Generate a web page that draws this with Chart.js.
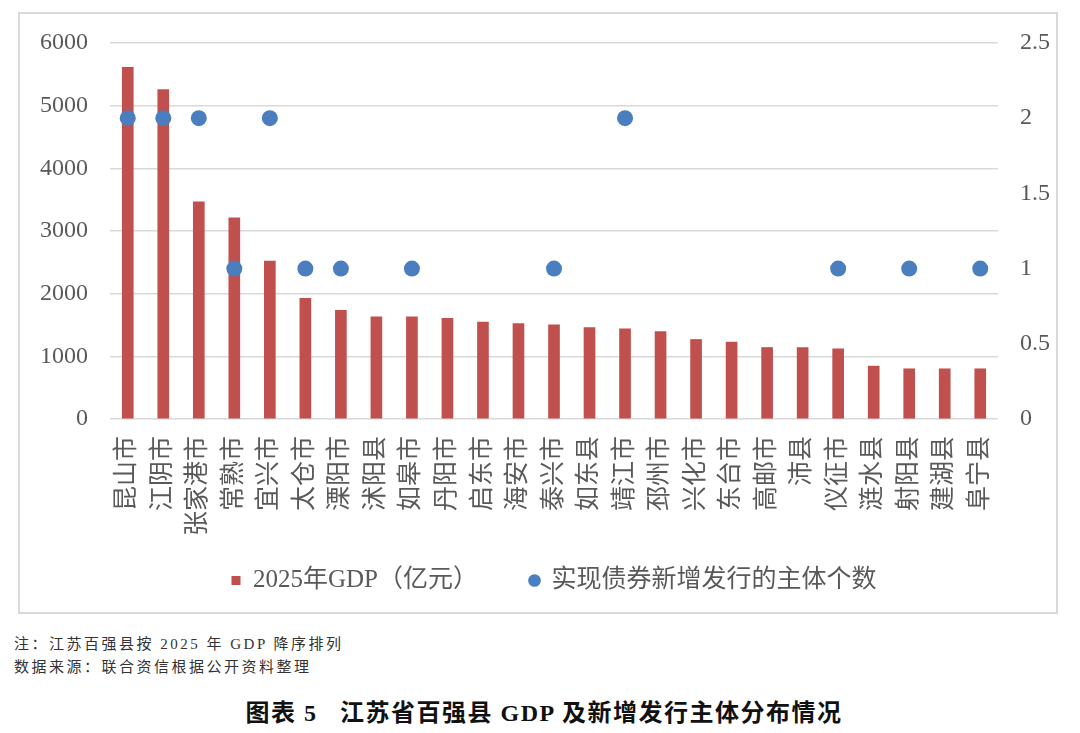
<!DOCTYPE html>
<html>
<head>
<meta charset="utf-8">
<script src="https://cdn.jsdelivr.net/npm/chart.js@4.4.1/dist/chart.umd.min.js"></script>
<style>
  body { margin: 0; width: 1080px; height: 733px; background: #fff; position: relative; overflow: hidden;
         font-family: "Liberation Serif", "Noto Sans CJK SC", serif; }
  #caixa { position: absolute; left: 18px; top: 12px; width: 1040px; height: 602px;
           border: 2px solid #d9d9d9; box-sizing: border-box; }
  #caixa canvas { display: block; }
  .nota { position: absolute; left: 14px; font-size: 15px; color: #333; letter-spacing: 2.5px; white-space: nowrap; }
  #titulo { position: absolute; left: 0; width: 1088px; top: 693px; text-align: center; font-size: 24px;
            font-weight: bold; color: #111; letter-spacing: 1.5px; white-space: nowrap; }
</style>
</head>
<body>
<div id="caixa"><canvas id="grafico" width="1036" height="598"></canvas></div>
<div class="nota" style="top:632px">注：江苏百强县按 2025 年 GDP 降序排列</div>
<div class="nota" style="top:655px">数据来源：联合资信根据公开资料整理</div>
<div id="titulo">图表 5&nbsp;&nbsp;&nbsp;江苏省百强县 GDP 及新增发行主体分布情况</div>

<script>
// Os dados do gráfico
var condados = ['昆山市', '江阴市', '张家港市', '常熟市', '宜兴市', '太仓市', '溧阳市', '沭阳县', '如皋市',
    '丹阳市', '启东市', '海安市', '泰兴市', '如东县', '靖江市', '邳州市', '兴化市', '东台市', '高邮市',
    '沛县', '仪征市', '涟水县', '射阳县', '建湖县', '阜宁县'];

var gdp2025 = [5610, 5255, 3466, 3212, 2521, 1927, 1736, 1629, 1629, 1608, 1545, 1524, 1502, 1460,
    1438, 1396, 1269, 1226, 1141, 1141, 1120, 844, 801, 801, 801];

// quantidade de emissores novos (null = sem ponto)
var emissores = [2, 2, 2, 1, 2, 1, 1, null, 1, null, null, null, 1, null, 2, null, null, null, null,
    null, 1, null, 1, null, 1];

var ticksEsquerda = [0, 1000, 2000, 3000, 4000, 5000, 6000];
var ticksDireita = [0, 0.5, 1, 1.5, 2, 2.5];

var nomeGdp = '2025年GDP（亿元）';
var nomeEmissores = '实现债券新增发行的主体个数';

var fonteTexto = '"Liberation Serif", "Noto Sans CJK SC", serif';
var cinza = '#595959';

function montarTicks(lista) {
    return function (escala) {
        escala.ticks = lista.map(function (v) { return { value: v }; });
    };
}

// fixa a largura do eixo y e tira a folga que o Chart.js soma em cima/embaixo
function larguraEixo(largura) {
    return function (escala) {
        escala.width = largura;
        escala.paddingTop = 0;
        escala.paddingBottom = 0;
    };
}

// ajustes depois do layout:
// - os rótulos do eixo x passam por baixo da legenda (senão o Chart.js corta o texto)
// - a legenda fica um pouco à direita do centro, como no original
var ajustarLayout = {
    id: 'ajustarLayout',
    afterLayout: function (chart) {
        chart.scales.x.bottom = chart.height;
        if (chart.legend) {
            chart.legend.left += 16;
            chart.legend.right += 16;
        }
    }
};

new Chart(document.getElementById('grafico'), {
    type: 'bar',
    data: {
        labels: condados,
        datasets: [
            {
                // fica no índice 0 para ser desenhado por cima das barras
                type: 'line',
                label: nomeEmissores,
                data: emissores,
                yAxisID: 'y1',
                showLine: false,
                pointRadius: 8,
                pointHoverRadius: 8,
                pointStyle: 'circle',
                backgroundColor: '#4a7ebf',
                borderColor: '#4a7ebf',
                borderWidth: 0
            },
            {
                type: 'bar',
                label: nomeGdp,
                data: gdp2025,
                yAxisID: 'y',
                backgroundColor: '#c0504d',
                pointStyle: 'rect',
                barThickness: 11
            }
        ]
    },
    plugins: [ajustarLayout],
    options: {
        responsive: false,
        animation: false,
        layout: { padding: { top: 29, bottom: 9, left: 0, right: 0 } },
        plugins: {
            tooltip: { enabled: false },
            legend: {
                position: 'bottom',
                labels: {
                    usePointStyle: true,
                    boxWidth: 9,
                    boxHeight: 9,
                    padding: 52,
                    color: cinza,
                    font: { family: fonteTexto, size: 25 },
                    sort: function (a, b) { return b.datasetIndex - a.datasetIndex; }
                }
            }
        },
        scales: {
            x: {
                grid: { display: false },
                border: { display: false },
                ticks: {
                    autoSkip: false,
                    maxRotation: 90,
                    minRotation: 90,
                    padding: 9,
                    color: cinza,
                    font: { family: fonteTexto, size: 25 }
                },
                afterFit: function (escala) { escala.height = 97; }
            },
            y: {
                position: 'left',
                min: 0,
                max: 6000,
                afterBuildTicks: montarTicks(ticksEsquerda),
                grid: { color: '#d9d9d9', lineWidth: 1.5, drawTicks: false },
                border: { display: false },
                ticks: {
                    padding: 22,
                    color: cinza,
                    font: { family: fonteTexto, size: 24 },
                    callback: function (v) { return String(v); }
                },
                afterFit: larguraEixo(90)
            },
            y1: {
                position: 'right',
                min: 0,
                max: 2.5,
                afterBuildTicks: montarTicks(ticksDireita),
                grid: { display: false, drawTicks: false },
                border: { display: false },
                ticks: {
                    padding: 22,
                    color: cinza,
                    font: { family: fonteTexto, size: 24 },
                    callback: function (v) { return String(v); }
                },
                afterFit: larguraEixo(58)
            }
        }
    }
});
</script>
</body>
</html>
